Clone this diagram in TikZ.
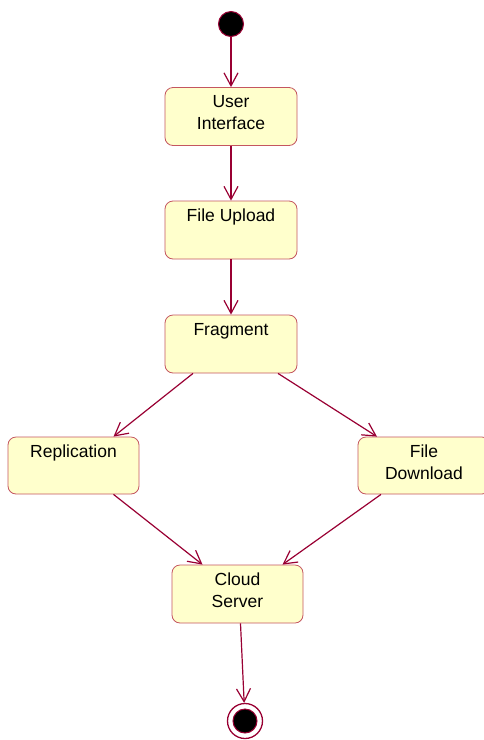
\documentclass[tikz,border=0pt]{standalone}
\usepackage{fontspec}
\setmainfont{Liberation Sans}
\usetikzlibrary{arrows.meta}
\definecolor{umlred}{RGB}{153,0,51}
\definecolor{umlborder}{RGB}{196,86,96}
\definecolor{umlfill}{RGB}{255,255,204}
\tikzset{
  % open arrow tips as in the UML tool
  >={Straight Barb[length=13pt,width=14pt]},
  flow/.style={draw=umlred, line width=1.2pt, ->},
  statebox/.style={draw=umlborder, fill=umlfill, rounded corners=8pt, minimum width=132pt, minimum height=58pt, inner sep=0pt, line width=0.8pt, font=\fontsize{17.5pt}{22pt}\selectfont},
  initial/.style={circle, draw=umlred, fill=black, line width=1pt, minimum size=25pt, inner sep=0pt},
  final/.style={circle, draw=umlred, fill=white, line width=1.3pt, minimum size=35pt, inner sep=0pt,
    path picture={\draw[umlred, fill=black, line width=1pt] (path picture bounding box.center) circle (12pt);}}
}
\newcommand{\statetext}[1]{\parbox[c][42pt][t]{124pt}{\centering #1}}

\begin{document}
\begin{tikzpicture}[x=1pt, y=-1pt]
    \useasboundingbox (0,0) rectangle (484,740);

    % Place nodes
    \node [initial] (start) at (231,24) {};
    \node [statebox, below of=start, node distance=92.5pt] (ui) {\statetext{User\\Interface}};
    \node [statebox, below of=ui, node distance=113.5pt] (upload) {\statetext{File Upload}};
    \node [statebox, below of=upload, node distance=114pt] (fragment) {\statetext{Fragment}};
    \node [statebox, minimum width=131pt, minimum height=57pt] (replication) at (73.5,465.5) {\statetext{Replication}};
    \node [statebox, minimum height=57pt] (download) at (424,465.5) {\statetext{File\\Download}};
    \node [statebox, minimum width=131pt] (cloud) at (237.5,594) {\statetext{Cloud\\Server}};
    \node [final] (finish) at (245,721) {};

    % Draw edges
    \draw [flow] (start) -- (ui);
    \draw [flow] (ui) -- (upload);
    \draw [flow] (upload) -- (fragment);
    \draw [flow] ([xshift=-38pt]fragment.south) -- ([xshift=40pt]replication.north);
    \draw [flow] ([xshift=47pt]fragment.south) -- ([xshift=-47pt]download.north);
    \draw [flow] ([xshift=40pt]replication.south) -- ([xshift=-35pt]cloud.north);
    \draw [flow] ([xshift=-43pt]download.south) -- ([xshift=45pt]cloud.north);
    \draw [flow] ([xshift=3pt]cloud.south) -- (finish);

\end{tikzpicture}
\end{document}
